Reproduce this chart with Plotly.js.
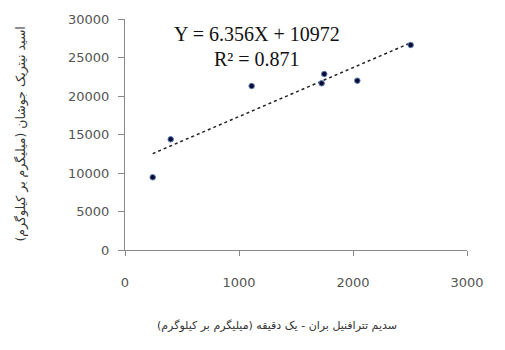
<!DOCTYPE html>
<html>
<head>
<meta charset="utf-8">
<script src="https://cdn.plot.ly/plotly-3.0.1.min.js"></script>
<style>html,body{margin:0;padding:0;background:#fff;}#chart{width:505px;height:350px;}</style>
</head>
<body>
<div id="chart"></div>
<script>
// data
const xValues = [243, 401, 1111, 1725, 1748, 2038, 2506];
const yValues = [9441, 14377, 21299, 21649, 22857, 21987, 26623];
const slope = 6.356;
const intercept = 10972;
const equationText = "Y = 6.356X + 10972";
const r2Text = "R² = 0.871";
const xTickValues = [0, 1000, 2000, 3000];
const yTickValues = [0, 5000, 10000, 15000, 20000, 25000, 30000];
const xTitle = "سدیم تترافنیل بران - یک دقیقه (میلیگرم بر کیلوگرم)";
const yTitle = "اسید نیتریک جوشان (میلیگرم بر کیلوگرم)";

const xMin = Math.min(...xValues), xMax = Math.max(...xValues);
const trendX = [xMin, xMax];
const trendY = trendX.map(v => slope * v + intercept);

const traces = [
  {x: trendX, y: trendY, mode: 'lines', type: 'scatter',
   line: {color: '#222', width: 1.5, dash: 'dot'}, hoverinfo: 'skip'},
  {x: xValues, y: yValues, mode: 'markers', type: 'scatter',
   marker: {color: '#0b0b35', size: 5.5, line: {color: '#5b7fb5', width: 1}}}
];

const tickFont = {family: 'DejaVu Sans', size: 13, color: '#555'};
const layout = {
  width: 505, height: 350,
  margin: {l: 125, r: 38, t: 19, b: 100},
  paper_bgcolor: '#fff', plot_bgcolor: '#fff',
  showlegend: false,
  xaxis: {range: [0, 3000], tickvals: xTickValues, ticktext: xTickValues.map(String),
          showgrid: false, zeroline: false, showline: true, linecolor: '#888', linewidth: 1,
          ticks: 'outside', ticklen: 5, tickcolor: '#888', tickfont: tickFont,
          ticklabelstandoff: 15, fixedrange: true},
  yaxis: {range: [0, 30000], tickvals: yTickValues, ticktext: yTickValues.map(String),
          showgrid: false, zeroline: false, showline: true, linecolor: '#888', linewidth: 1,
          ticks: 'outside', ticklen: 6, tickcolor: '#888', tickfont: tickFont,
          ticklabelstandoff: 6, fixedrange: true},
  annotations: [
    {text: equationText, xref: 'paper', yref: 'paper', x: 0.386, y: 0.937,
     xanchor: 'center', yanchor: 'middle', showarrow: false, borderpad: 0,
     font: {family: 'Liberation Serif', size: 20, color: '#111'}},
    {text: r2Text, xref: 'paper', yref: 'paper', x: 0.386, y: 0.829,
     xanchor: 'center', yanchor: 'middle', showarrow: false, borderpad: 0,
     font: {family: 'Liberation Serif', size: 20, color: '#111'}},
    {text: xTitle, xref: 'paper', yref: 'paper', x: 0.444, y: -0.329,
     xanchor: 'center', yanchor: 'middle', showarrow: false,
     font: {family: 'DejaVu Sans', size: 11, color: '#333'}},
    {text: yTitle, xref: 'paper', yref: 'paper', x: -0.307, y: 0.5,
     xanchor: 'center', yanchor: 'middle', showarrow: false, textangle: -90,
     font: {family: 'DejaVu Sans', size: 12.5, color: '#333'}}
  ]
};
Plotly.newPlot('chart', traces, layout, {displayModeBar: false, staticPlot: true});
</script>
</body>
</html>
